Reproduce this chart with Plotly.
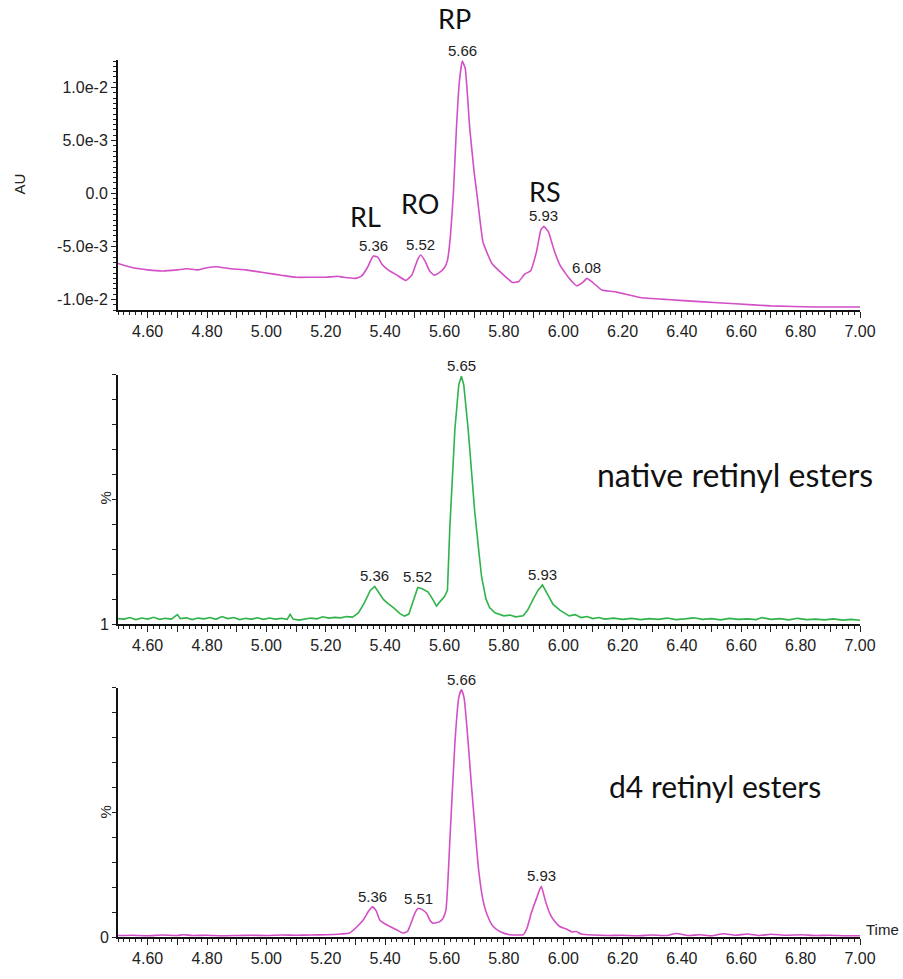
import plotly.graph_objects as go

# ---------------- data ----------------
# Panel 1: UV trace (AU)
uv_time = [4.50, 4.55, 4.60, 4.65, 4.70, 4.73, 4.77, 4.80, 4.83, 4.88, 4.93, 5.00, 5.05, 5.10,
           5.15, 5.20, 5.24, 5.26, 5.30, 5.32, 5.34, 5.36, 5.375, 5.39, 5.41, 5.44, 5.47, 5.49,
           5.51, 5.52, 5.535, 5.55, 5.565, 5.58, 5.60, 5.61, 5.62, 5.63, 5.64, 5.65, 5.66, 5.67,
           5.685, 5.70, 5.71, 5.73, 5.76, 5.80, 5.83, 5.85, 5.87, 5.89, 5.91, 5.925, 5.935, 5.95,
           5.97, 5.99, 6.02, 6.045, 6.065, 6.08, 6.10, 6.13, 6.18, 6.26, 6.35, 6.46, 6.58, 6.70,
           6.85, 7.00]
uv_au = [-0.0066, -0.0070, -0.0072, -0.0073, -0.0072, -0.0071, -0.0072, -0.0070, -0.0069, -0.0071,
         -0.0072, -0.0075, -0.0077, -0.0079, -0.0079, -0.0079, -0.0078, -0.0079, -0.0080, -0.0078,
         -0.0070, -0.0059, -0.0060, -0.0067, -0.0072, -0.0077, -0.0082, -0.0077, -0.0062, -0.0058,
         -0.0064, -0.0073, -0.0077, -0.0075, -0.0070, -0.0063, -0.0040, 0.0000, 0.0060, 0.0105,
         0.0125, 0.0118, 0.0062, 0.0020, -0.0002, -0.0046, -0.0066, -0.0077, -0.0084, -0.0083,
         -0.0076, -0.0073, -0.0055, -0.0034, -0.0031, -0.0036, -0.0054, -0.0068, -0.0080, -0.0087,
         -0.0084, -0.0080, -0.0084, -0.0091, -0.0093, -0.0098, -0.0100, -0.0102, -0.0104, -0.0106,
         -0.0107, -0.0107]

# Panel 2: native retinyl esters (%)
nat_time = [4.50, 4.52, 4.54, 4.56, 4.58, 4.60, 4.62, 4.64, 4.66, 4.68, 4.70, 4.71, 4.73, 4.75,
            4.77, 4.79, 4.81, 4.83, 4.85, 4.87, 4.89, 4.91, 4.93, 4.95, 4.97, 4.99, 5.01, 5.03,
            5.05, 5.07, 5.08, 5.09, 5.11, 5.13, 5.15, 5.17, 5.19, 5.21, 5.23, 5.25, 5.27, 5.29,
            5.31, 5.33, 5.35, 5.365, 5.38, 5.395, 5.41, 5.43, 5.45, 5.465, 5.48, 5.495, 5.51,
            5.525, 5.545, 5.56, 5.573, 5.585, 5.60, 5.61, 5.618, 5.635, 5.648, 5.657, 5.665, 5.68,
            5.69, 5.702, 5.715, 5.725, 5.74, 5.752, 5.77, 5.80, 5.82, 5.84, 5.865, 5.88, 5.898,
            5.915, 5.93, 5.945, 5.966, 5.99, 6.02, 6.04, 6.06, 6.08, 6.10, 6.12, 6.14, 6.17, 6.20,
            6.23, 6.26, 6.29, 6.32, 6.35, 6.38, 6.41, 6.44, 6.47, 6.50, 6.53, 6.56, 6.59, 6.62,
            6.65, 6.67, 6.70, 6.73, 6.76, 6.79, 6.82, 6.85, 6.88, 6.91, 6.94, 6.97, 7.00]
nat_pct = [2.2, 2.0, 2.6, 1.8, 2.4, 2.0, 2.7, 1.9, 2.3, 2.0, 3.8, 2.2, 2.5, 1.8,
           2.4, 2.1, 2.6, 1.9, 3.0, 2.2, 2.6, 1.8, 2.3, 2.0, 2.5, 1.9, 2.4, 2.0,
           2.3, 1.9, 3.9, 2.0, 1.6, 1.9, 2.4, 2.1, 2.9, 2.4, 2.7, 2.5, 3.0, 2.8,
           4.5, 8.5, 13.5, 15.1, 12.5, 9.8, 8.2, 6.4, 4.2, 3.2, 4.0, 9.5, 14.7,
           14.2, 12.8, 10.0, 7.2, 9.0, 11.0, 13.5, 38.7, 78.0, 96.0, 99.5, 96.0, 78.0,
           62.0, 45.0, 30.0, 19.0, 10.0, 6.6, 4.5, 3.3, 3.6, 2.9, 3.3, 5.5, 9.8,
           13.5, 15.7, 12.5, 7.9, 5.5, 3.3, 3.8, 2.6, 3.0, 2.2, 2.6, 2.0, 2.4, 1.9,
           2.3, 1.8, 2.2, 1.9, 2.4, 1.8, 2.1, 2.5, 1.9, 2.2, 1.7, 2.3, 1.9, 2.1,
           1.8, 2.6, 1.9, 2.2, 1.7, 2.3, 1.8, 2.0, 1.7, 2.1, 1.6, 1.9, 1.5]

# Panel 3: d4 retinyl esters (%)
d4_time = [4.50, 4.55, 4.60, 4.65, 4.70, 4.72, 4.75, 4.80, 4.85, 4.90, 4.95, 5.00, 5.05, 5.10,
           5.15, 5.20, 5.25, 5.28, 5.30, 5.326, 5.345, 5.357, 5.37, 5.382, 5.40, 5.416, 5.44,
           5.46, 5.475, 5.483, 5.50, 5.511, 5.525, 5.54, 5.552, 5.562, 5.575, 5.584, 5.595,
           5.605, 5.618, 5.635, 5.648, 5.657, 5.666, 5.68, 5.69, 5.702, 5.715, 5.73, 5.745,
           5.764, 5.79, 5.82, 5.845, 5.865, 5.878, 5.892, 5.91, 5.926, 5.94, 5.955, 5.97, 5.988,
           6.01, 6.03, 6.044, 6.06, 6.10, 6.15, 6.20, 6.25, 6.30, 6.35, 6.38, 6.42, 6.46, 6.50,
           6.54, 6.58, 6.62, 6.66, 6.70, 6.75, 6.80, 6.85, 6.90, 6.95, 7.00]
d4_pct = [0.6, 0.7, 0.5, 0.8, 0.6, 0.9, 0.6, 0.7, 0.5, 0.6, 0.7, 0.6, 0.8, 0.7,
          0.8, 0.9, 1.2, 1.6, 3.5, 6.8, 10.5, 12.1, 10.5, 6.8, 5.2, 4.2, 2.8,
          1.6, 2.2, 4.2, 9.5, 11.4, 11.0, 9.4, 6.5, 5.5, 5.8, 6.2, 7.5,
          11.0, 38.3, 77.7, 96.0, 99.2, 96.0, 77.7, 62.0, 44.9, 27.0, 14.7, 8.5,
          4.2, 2.0, 0.9, 0.8, 0.9, 3.5, 9.4, 15.5, 20.3, 14.5, 9.4, 6.5, 4.2,
          3.2, 2.0, 2.2, 1.2, 0.8, 0.6, 0.7, 0.5, 0.8, 0.6, 1.4, 0.6, 0.9, 0.5,
          1.3, 0.7, 1.2, 0.6, 1.1, 0.7, 0.9, 0.6, 0.7, 0.5, 0.5]

# Peak labels
uv_peaks = [(5.36, -0.0059, "5.36"), (5.52, -0.0058, "5.52"), (5.66, 0.0125, "5.66"),
            (5.935, -0.0031, "5.93"), (6.08, -0.0080, "6.08")]
nat_peaks = [(5.365, 15.1, "5.36"), (5.51, 14.7, "5.52"), (5.657, 99.5, "5.65"), (5.93, 15.7, "5.93")]
d4_peaks = [(5.357, 12.1, "5.36"), (5.511, 11.4, "5.51"), (5.657, 99.2, "5.66"), (5.926, 20.3, "5.93")]

compound_labels = [(5.334, -0.00213, "RL"), (5.519, -0.0009, "RO"), (5.94, 0.000185, "RS")]
rp_label = (5.635, "RP")

uv_ticks = [-0.01, -0.005, 0.0, 0.005, 0.01]
uv_ticktext = ["-1.0e-2", "-5.0e-3", "0.0", "5.0e-3", "1.0e-2"]

time_ticks = [4.6, 4.7, 4.8, 4.9, 5.0, 5.1, 5.2, 5.3, 5.4, 5.5, 5.6, 5.7, 5.8, 5.9, 6.0,
              6.1, 6.2, 6.3, 6.4, 6.5, 6.6, 6.7, 6.8, 6.9, 7.0]
time_ticktext = ["4.60", "", "4.80", "", "5.00", "", "5.20", "", "5.40", "", "5.60", "", "5.80", "",
                 "6.00", "", "6.20", "", "6.40", "", "6.60", "", "6.80", "", "7.00"]

MAGENTA = "#d24fc6"
GREEN = "#2fb34a"

# ---------------- figure ----------------
fig = go.Figure()
fig.add_trace(go.Scatter(x=uv_time, y=uv_au, mode="lines", xaxis="x", yaxis="y",
                         line=dict(color=MAGENTA, width=1.6, shape="spline", smoothing=0.4)))
fig.add_trace(go.Scatter(x=nat_time, y=nat_pct, mode="lines", xaxis="x2", yaxis="y2",
                         line=dict(color=GREEN, width=1.6)))
fig.add_trace(go.Scatter(x=d4_time, y=d4_pct, mode="lines", xaxis="x3", yaxis="y3",
                         line=dict(color=MAGENTA, width=1.6, shape="spline", smoothing=0.5)))

tickfont = dict(family="Liberation Sans, Arial", size=16, color="#222")
xcommon = dict(range=[4.5, 7.0], tickvals=time_ticks, ticktext=time_ticktext,
               ticks="outside", ticklen=6, tickwidth=1, tickcolor="#222",
               minor=dict(dtick=0.02, tick0=4.5, ticks="outside", ticklen=3, tickcolor="#222"),
               showline=True, linecolor="#111", linewidth=2, showgrid=False, zeroline=False,
               tickfont=tickfont, fixedrange=True)
ycommon = dict(showline=True, linecolor="#111", linewidth=2, showgrid=False, zeroline=False,
               ticks="outside", tickcolor="#222", tickfont=tickfont)

d1 = [(954 - 315) / 894, (954 - 60) / 894]
d2 = [(954 - 635) / 894, (954 - 381) / 894]
d3 = [0.0, (954 - 700) / 894]

fig.update_layout(
    width=903, height=979,
    margin=dict(l=118, r=43, t=60, b=25),
    paper_bgcolor="white", plot_bgcolor="white",
    showlegend=False,
    xaxis=dict(**xcommon, anchor="y"),
    xaxis2=dict(**xcommon, anchor="y2"),
    xaxis3=dict(**xcommon, anchor="y3"),
    yaxis=dict(**ycommon, domain=d1, anchor="x", range=[-0.011, 0.0126],
               tickvals=uv_ticks, ticktext=uv_ticktext, ticklen=5,
               minor=dict(dtick=0.0005, tick0=0, ticks="outside", ticklen=3, tickcolor="#222")),
    yaxis2=dict(**ycommon, domain=d2, anchor="x2", range=[0, 100],
                tickvals=[0, 10, 20, 30, 40, 50, 60, 70, 80, 90, 100],
                ticktext=["1", "", "", "", "", "", "", "", "", "", ""], ticklen=4),
    yaxis3=dict(**ycommon, domain=d3, anchor="x3", range=[0, 100],
                tickvals=[0, 10, 20, 30, 40, 50, 60, 70, 80, 90, 100],
                ticktext=["0", "", "", "", "", "", "", "", "", "", ""], ticklen=4),
)

ann = []
small = dict(family="Liberation Sans, Arial", size=15, color="#222")
for axn, peaks in (("", uv_peaks), ("2", nat_peaks), ("3", d4_peaks)):
    for t, v, txt in peaks:
        ann.append(dict(x=t, y=v, xref="x" + axn, yref="y" + axn, text=txt, showarrow=False,
                        xanchor="center", yanchor="bottom", yshift=0, font=small))
big = dict(family="Lato, Noto Sans, sans-serif", size=27, color="#111")
for t, v, txt in compound_labels:
    ann.append(dict(x=t, y=v, xref="x", yref="y", text=txt, showarrow=False,
                    xanchor="center", yanchor="middle", font=big))
ann.append(dict(x=rp_label[0], y=(954 - 18) / 894, xref="x", yref="paper", text=rp_label[1],
                showarrow=False, xanchor="center", yanchor="middle", font=big))
ann.append(dict(x=6.58, y=60.2, xref="x2", yref="y2", text="native retinyl esters", showarrow=False,
                xanchor="center", yanchor="middle",
                font=dict(family="Lato, Noto Sans, sans-serif", size=32, color="#111")))
ann.append(dict(x=6.51, y=60.6, xref="x3", yref="y3", text="d4 retinyl esters", showarrow=False,
                xanchor="center", yanchor="middle",
                font=dict(family="Lato, Noto Sans, sans-serif", size=30, color="#111")))
ann.append(dict(x=(882 - 118) / 742, y=(954 - 946) / 894, xref="paper", yref="paper", text="Time",
                showarrow=False, xanchor="center", yanchor="middle", font=small))
ann.append(dict(x=(20 - 118) / 742, y=(954 - 187) / 894, xref="paper", yref="paper", text="AU",
                showarrow=False, textangle=-90, xanchor="center", yanchor="middle", font=small))
ann.append(dict(x=(105 - 118) / 742, y=(954 - 507) / 894, xref="paper", yref="paper", text="%",
                showarrow=False, textangle=-90, xanchor="center", yanchor="middle", font=small))
ann.append(dict(x=(105 - 118) / 742, y=(954 - 827) / 894, xref="paper", yref="paper", text="%",
                showarrow=False, textangle=-90, xanchor="center", yanchor="middle", font=small))
fig.update_layout(annotations=ann)

fig.write_html("out.html")
